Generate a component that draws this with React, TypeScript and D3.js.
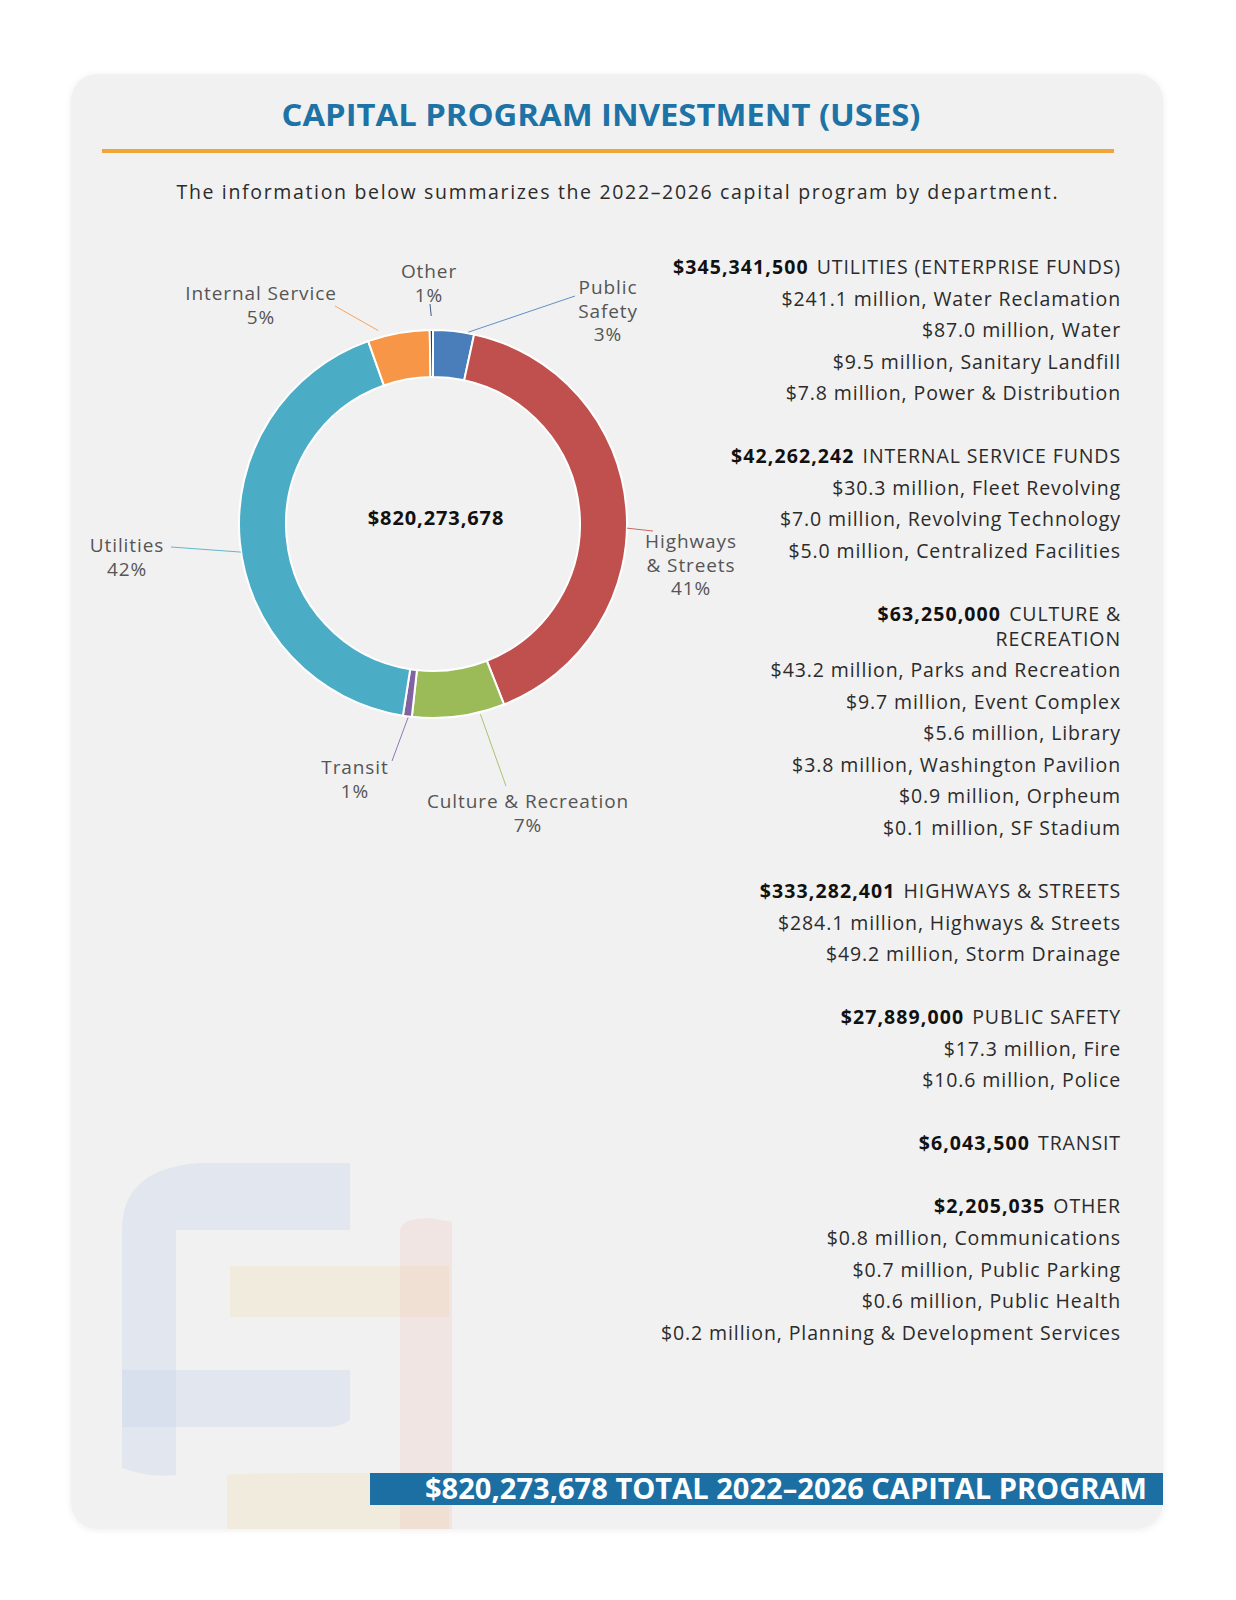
import React from 'react';
import * as d3 from 'd3';

// ---------- DATA ----------
const categories = ['Public Safety', 'Highways & Streets', 'Culture & Recreation', 'Transit', 'Utilities', 'Internal Service', 'Other'];
const amounts = [27889000, 333282401, 63250000, 6043500, 345341500, 42262242, 2205035];
const percentLabels = ['3%', '41%', '7%', '1%', '42%', '5%', '1%'];
const labelLines = [['Public', 'Safety'], ['Highways', '& Streets'], ['Culture & Recreation'], ['Transit'], ['Utilities'], ['Internal Service'], ['Other']];
const sliceColors = ['#4a7ebb', '#c0504d', '#9bbb59', '#8064a2', '#4bacc6', '#f79646', '#243f66'];

const totalLabel = '$820,273,678';
const titleText = 'CAPITAL PROGRAM INVESTMENT (USES)';
const subtitleText = 'The information below summarizes the 2022\u20132026 capital program by department.';
const bannerText = '$820,273,678 TOTAL 2022\u20132026 CAPITAL PROGRAM';

const groupTotals = ['$345,341,500', '$42,262,242', '$63,250,000', '$333,282,401', '$27,889,000', '$6,043,500', '$2,205,035'];
const groupNames = [['UTILITIES (ENTERPRISE FUNDS)'], ['INTERNAL SERVICE FUNDS'], ['CULTURE &', 'RECREATION'], ['HIGHWAYS & STREETS'], ['PUBLIC SAFETY'], ['TRANSIT'], ['OTHER']];
const groupItems = [
  ['$241.1 million, Water Reclamation', '$87.0 million, Water', '$9.5 million, Sanitary Landfill', '$7.8 million, Power & Distribution'],
  ['$30.3 million, Fleet Revolving', '$7.0 million, Revolving Technology', '$5.0 million, Centralized Facilities'],
  ['$43.2 million, Parks and Recreation', '$9.7 million, Event Complex', '$5.6 million, Library', '$3.8 million, Washington Pavilion', '$0.9 million, Orpheum', '$0.1 million, SF Stadium'],
  ['$284.1 million, Highways & Streets', '$49.2 million, Storm Drainage'],
  ['$17.3 million, Fire', '$10.6 million, Police'],
  [],
  ['$0.8 million, Communications', '$0.7 million, Public Parking', '$0.6 million, Public Health', '$0.2 million, Planning & Development Services'],
];

// ---------- LAYOUT (positions / styles) ----------
const W = 1236, H = 1600;
const card = { x: 71, y: 74, w: 1092, h: 1455, r: 26 };
const donut = { cx: 433, cy: 524, inner: 147, outer: 194 };
const labelLayout: Record<string, { x: number; y: number; ex: number; ey: number; t: number; rr: number }> = {
  'Public Safety': { x: 608, y: 294, ex: 575, ey: 296, t: 0.85, rr: 195 },
  'Highways & Streets': { x: 691, y: 548, ex: 653, ey: 531, t: 0.54, rr: 194 },
  'Culture & Recreation': { x: 528, y: 808, ex: 506, ey: 786, t: 0.27, rr: 196 },
  'Transit': { x: 355, y: 774, ex: 392, ey: 761, t: 0.4, rr: 195 },
  'Utilities': { x: 127, y: 552, ex: 171, ey: 547, t: 0.48, rr: 194 },
  'Internal Service': { x: 261, y: 300, ex: 335, ey: 306, t: 0.2, rr: 201 },
  'Other': { x: 429, y: 278, ex: 430, ey: 304, t: 0.5, rr: 208 },
};
const labelLineH = 23.5;
const rightX = 1121;
const rightY0 = 274;
const rightStep = 31.55;
const wrapStep = 24.5;

const FONT = "'Open Sans', 'DejaVu Sans', sans-serif";

export default function App() {
  const pie = d3.pie<number>().sort(null).value((d) => d).startAngle(0).endAngle(2 * Math.PI);
  const arcs = pie(amounts);
  const arcGen = d3.arc<d3.PieArcDatum<number>>().innerRadius(donut.inner).outerRadius(donut.outer);

  const rightLines: { y: number; bold?: string; text: string }[] = [];
  let y = rightY0;
  groupTotals.forEach((tot, gi) => {
    if (gi > 0) y += rightStep * 2;
    groupNames[gi].forEach((nm, ni) => {
      if (ni > 0) y += wrapStep;
      rightLines.push({ y, bold: ni === 0 ? tot : undefined, text: nm });
    });
    groupItems[gi].forEach((it) => {
      y += rightStep;
      rightLines.push({ y, text: it });
    });
  });

  return (
    <svg width={W} height={H} style={{ position: 'absolute', left: 0, top: 0, display: 'block', background: '#ffffff' }}>
      <defs>
        <clipPath id="cardClip">
          <rect x={card.x} y={card.y} width={card.w} height={card.h} rx={card.r} ry={card.r} />
        </clipPath>
        <filter id="shadow" x="-5%" y="-5%" width="110%" height="110%">
          <feDropShadow dx="0" dy="1" stdDeviation="3" floodColor="#000" floodOpacity="0.07" />
        </filter>
      </defs>

      <rect x={card.x} y={card.y} width={card.w} height={card.h} rx={card.r} ry={card.r} fill="#f1f1f1" filter="url(#shadow)" />

      {/* watermark */}
      <g clipPath="url(#cardClip)">
        <path d="M122,1230 Q122,1168 200,1163 L350,1163 L350,1230 L176,1230 L176,1475 Q150,1478 122,1468 Z" fill="#c5d3ea" opacity={0.35} />
        <path d="M122,1370 L350,1370 L350,1420 Q340,1427 330,1427 L122,1427 Z" fill="#c5d3ea" opacity={0.35} />
        <path d="M230,1266 L449,1266 L449,1317 L230,1317 Z" fill="#f3dfae" opacity={0.3} />
        <path d="M227,1475 Q240,1473 300,1473 L449,1473 L449,1529 L227,1529 Z" fill="#f3dfae" opacity={0.3} />
        <path d="M400,1230 Q402,1218 430,1218 L452,1222 L452,1529 L400,1529 Z" fill="#ecc6be" opacity={0.28} />
      </g>

      {/* title */}
      <text x={601} y={126} textAnchor="middle" fontFamily={FONT} fontWeight={700} fontSize={30} fill="#1d72a6" textLength={639} lengthAdjust="spacingAndGlyphs">
        {titleText}
      </text>
      <rect x={102} y={149} width={1012} height={4} fill="#f0a537" />
      <text x={617} y={199} textAnchor="middle" fontFamily={FONT} fontWeight={400} fontSize={19.5} fill="#2b2b2b" textLength={881} lengthAdjust="spacing">
        {subtitleText}
      </text>

      {/* donut */}
      <g transform={`translate(${donut.cx},${donut.cy})`}>
        {arcs.map((a, i) => (
          <path key={categories[i]} d={arcGen(a) || ''} fill={sliceColors[i]} stroke="#ffffff" strokeWidth={2} />
        ))}
      </g>
      <text x={436} y={525} textAnchor="middle" fontFamily={FONT} fontWeight={700} fontSize={20} fill="#111" letterSpacing={0.9}>
        {totalLabel}
      </text>

      {/* leaders and labels */}
      {arcs.map((a, i) => {
        const L = labelLayout[categories[i]];
        const ang = a.startAngle + (a.endAngle - a.startAngle) * L.t;
        const sx = donut.cx + L.rr * Math.sin(ang);
        const sy = donut.cy - L.rr * Math.cos(ang);
        const lines = [...labelLines[i], percentLabels[i]];
        return (
          <g key={'lab' + i}>
            <line x1={sx} y1={sy} x2={L.ex} y2={L.ey} stroke={sliceColors[i]} strokeWidth={1} opacity={0.85} />
            <text textAnchor="middle" fontFamily={FONT} fontSize={19} fill="#555555" letterSpacing={0.9}>
              {lines.map((ln, k) => (
                <tspan key={k} x={L.x} y={L.y + k * labelLineH}>{ln}</tspan>
              ))}
            </text>
          </g>
        );
      })}

      {/* right column */}
      {rightLines.map((ln, i) => (
        <text key={'r' + i} x={rightX} y={ln.y} textAnchor="end" fontFamily={FONT} fontSize={19.5} fill="#2b2b2b" letterSpacing={0.9}>
          {ln.bold ? <tspan fontWeight={700} fill="#111" letterSpacing={1.1}>{ln.bold}</tspan> : null}
          {ln.bold ? <tspan dx={8}>{ln.text}</tspan> : ln.text}
        </text>
      ))}

      {/* banner */}
      <rect x={370} y={1473} width={793} height={32} fill="#1b6fa3" />
      <text x={425} y={1499} fontFamily={FONT} fontWeight={700} fontSize={28} fill="#ffffff" textLength={722} lengthAdjust="spacingAndGlyphs">
        {bannerText}
      </text>
    </svg>
  );
}
